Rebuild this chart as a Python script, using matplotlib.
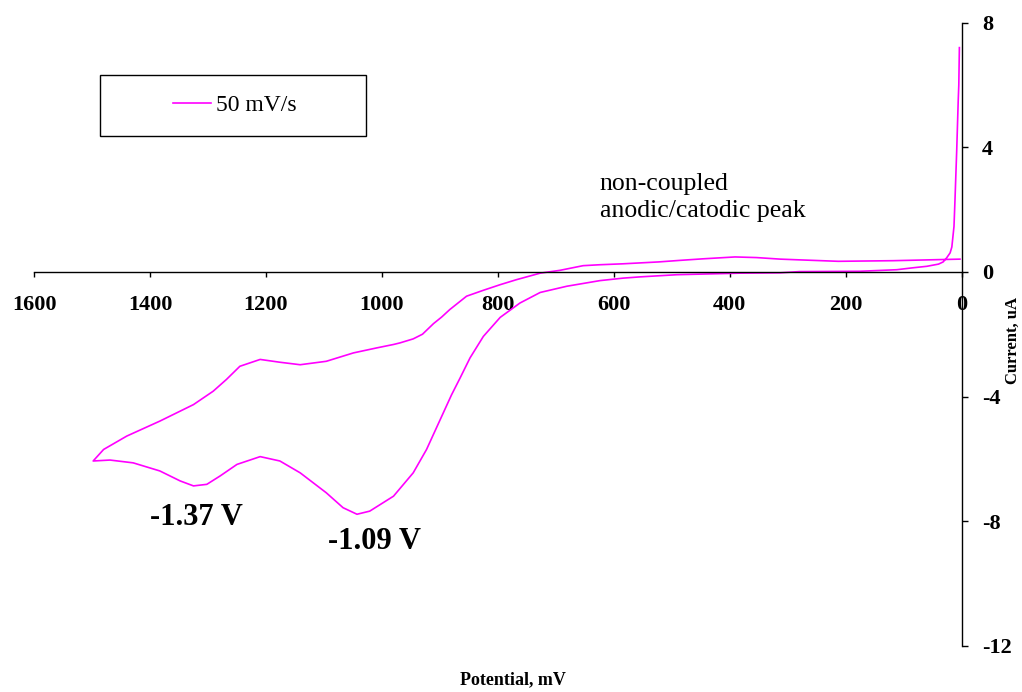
import matplotlib
matplotlib.use("Agg")
import matplotlib.pyplot as plt
from matplotlib.patches import Rectangle

plt.rcParams["font.family"] = ["Liberation Serif", "DejaVu Serif"]

# forward scan: start spike near 0 mV, cathodic branch out to 1500 mV
fwd_mv = [4, 5, 6, 8.6, 11.6, 13.3, 17, 20, 26, 32, 40, 60, 85, 112, 176, 280,
          313, 382, 491, 555, 584, 624, 681, 727, 762, 796, 825, 848, 865, 880,
          894, 923, 946, 980, 1021, 1043, 1067, 1096, 1141, 1176, 1210, 1250,
          1279, 1302, 1325, 1348, 1383, 1429, 1469, 1498]
fwd_ua = [7.2, 6.0, 5.5, 3.9, 2.3, 1.46, 0.8, 0.61, 0.45, 0.32, 0.25, 0.18, 0.13,
          0.07, 0.02, 0.01, -0.03, -0.04, -0.09, -0.16, -0.2, -0.28, -0.46, -0.66,
          -1.0, -1.46, -2.07, -2.76, -3.4, -3.95, -4.52, -5.7, -6.45, -7.2, -7.68,
          -7.78, -7.57, -7.09, -6.45, -6.07, -5.93, -6.18, -6.55, -6.82, -6.87,
          -6.71, -6.39, -6.13, -6.04, -6.07]

# reverse scan: back from 1500 mV to 0 mV
rev_mv = [1480, 1440, 1383, 1325, 1291, 1268, 1245, 1210, 1176, 1141, 1096, 1049,
          1009, 980, 969, 946, 930, 911, 897, 883, 854, 825, 796, 768, 727, 693,
          653, 624, 584, 523, 486, 446, 391, 354, 313, 285, 213, 118, 3]
rev_ua = [-5.7, -5.27, -4.79, -4.26, -3.83, -3.45, -3.03, -2.81, -2.9, -2.98, -2.87,
          -2.6, -2.44, -2.33, -2.28, -2.15, -2.0, -1.66, -1.45, -1.21, -0.78, -0.59,
          -0.41, -0.25, -0.04, 0.05, 0.2, 0.23, 0.26, 0.32, 0.37, 0.42, 0.48, 0.46,
          0.41, 0.39, 0.34, 0.36, 0.41]

potential = fwd_mv + rev_mv
current = fwd_ua + rev_ua

x_ticks = [1600, 1400, 1200, 1000, 800, 600, 400, 200, 0]
y_ticks = [8, 4, 0, -4, -8, -12]

peaks = [(1320, -7.9, "-1.37 V"), (1012, -8.65, "-1.09 V")]

fig = plt.figure(figsize=(10.22, 6.92), dpi=100)
ax = fig.add_axes([0.0333, 0.0669, 0.9077, 0.9003])

ax.plot(potential, current, color="#ff00ff", linewidth=1.2, label="50 mV/s")

ax.set_xlim(1600, 0)
ax.set_ylim(-12, 8)

ax.spines["top"].set_visible(False)
ax.spines["left"].set_visible(False)
ax.spines["bottom"].set_position(("data", 0))
ax.spines["right"].set_position(("data", 0))
for s in ("bottom", "right"):
    ax.spines[s].set_linewidth(1.0)

ax.yaxis.tick_right()
ax.set_xticks(x_ticks)
ax.set_yticks(y_ticks)
ax.set_xticklabels([str(v) for v in x_ticks], fontweight="bold", fontsize=16)
ax.set_yticklabels([str(v) for v in y_ticks], fontweight="bold", fontsize=16)
ax.tick_params(axis="x", direction="out", length=3.6, width=1.0, pad=13)
ax.tick_params(axis="y", direction="out", length=4.5, width=1.0, pad=10)

fig.text(513 / 1022, 1 - 680 / 692, "Potential, mV", fontsize=13,
         fontweight="bold", ha="center", va="center")
fig.text(1013 / 1022, 1 - 340 / 692, "Current, uA", fontsize=12,
         fontweight="bold", ha="center", va="center", rotation=90)

ax.text(624, 2.4, "non-coupled\nanodic/catodic peak", fontsize=18.5,
        ha="left", va="center", linespacing=1.3)

for x, y, lab in peaks:
    ax.text(x, y, lab, fontsize=22, fontweight="bold", ha="center", va="center")

# legend box
fig.add_artist(Rectangle((100 / 1022, 1 - 136 / 692), 266 / 1022, 61 / 692,
                         transform=fig.transFigure, fill=False,
                         edgecolor="black", linewidth=1.0))
ax.legend(loc="center", bbox_to_anchor=(235 / 1022, 1 - 105.5 / 692),
          bbox_transform=fig.transFigure, frameon=False, fontsize=17,
          handlelength=1.6, handletextpad=0.2, borderpad=0)

fig.savefig("out.png", dpi=100)
